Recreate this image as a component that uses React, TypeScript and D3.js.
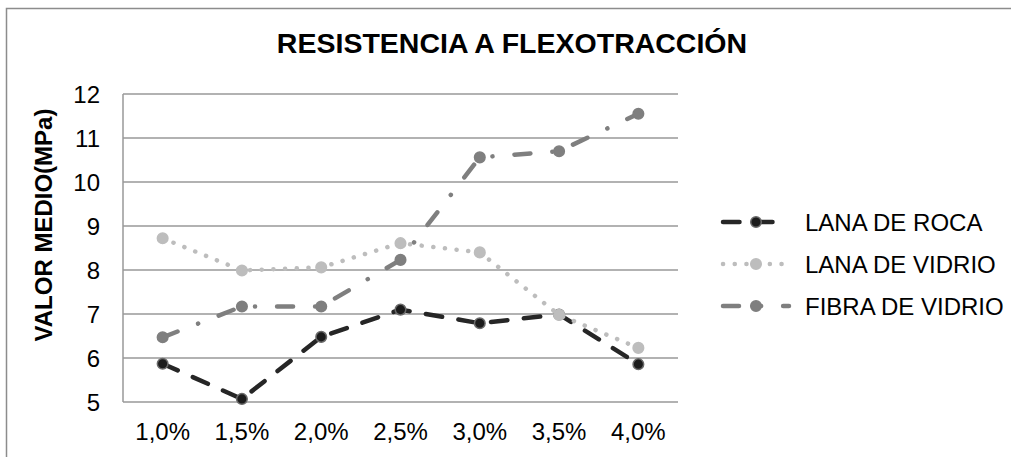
import * as d3 from "d3";

const categories = ["1,0%", "1,5%", "2,0%", "2,5%", "3,0%", "3,5%", "4,0%"];
const lanaRoca = [5.87, 5.07, 6.48, 7.1, 6.79, 6.99, 5.86];
const lanaVidrio = [8.72, 7.99, 8.06, 8.61, 8.4, 6.98, 6.23];
const fibraVidrio = [6.47, 7.17, 7.17, 8.23, 10.56, 10.7, 11.55];
const yTicks = [5, 6, 7, 8, 9, 10, 11, 12];

type Series = {
  name: string;
  values: number[];
  stroke: string;
  dash: string;
  fill: string;
  markerStroke: string;
};

const series: Series[] = [
  { name: "LANA DE ROCA", values: lanaRoca, stroke: "#262626", dash: "16.5 16.5", fill: "#1c1c1c", markerStroke: "#6a6a6a" },
  { name: "LANA DE VIDRIO", values: lanaVidrio, stroke: "#bdbdbd", dash: "0.1 11.6", fill: "#bdbdbd", markerStroke: "#bdbdbd" },
  { name: "FIBRA DE VIDRIO", values: fibraVidrio, stroke: "#7f7f7f", dash: "16 22 0.1 22", fill: "#7f7f7f", markerStroke: "#7f7f7f" },
];

const W = 1011;
const H = 457;
const font = "'Liberation Sans', Arial, sans-serif";

export default function App() {
  const x = d3.scalePoint<string>().domain(categories).range([123, 678]).padding(0.5);
  const y = d3.scaleLinear().domain([5, 12]).range([402, 94]);

  const line = d3
    .line<number>()
    .x((_, i) => x(categories[i]) as number)
    .y((d) => y(d));

  const legendY = d3.scalePoint<string>().domain(series.map((s) => s.name)).range([222, 306]);

  return (
    <svg
      width={W}
      height={H}
      style={{ position: "absolute", left: 0, top: 0, background: "#fff" }}
      fontFamily={font}
    >
      {/* outer frame (cut at right/bottom) */}
      <rect x={6.5} y={8.5} width={W + 20} height={H + 20} fill="#fff" stroke="#8c8c8c" strokeWidth={1.5} />

      <text x={512} y={53} textAnchor="middle" fontSize={28.5} fontWeight="bold" fill="#000">
        RESISTENCIA A FLEXOTRACCIÓN
      </text>

      {/* gridlines */}
      {yTicks.map((t) => (
        <line key={t} x1={123} x2={678} y1={y(t)} y2={y(t)} stroke="#999" strokeWidth={1.5} />
      ))}
      <line x1={123} x2={123} y1={y(12)} y2={y(5)} stroke="#999" strokeWidth={1.5} />

      {/* y tick labels */}
      {yTicks.map((t) => (
        <text key={t} x={100} y={y(t)} textAnchor="end" dominantBaseline="central" fontSize={24} fill="#000">
          {t}
        </text>
      ))}

      {/* x tick labels */}
      {categories.map((c) => (
        <text key={c} x={x(c)} y={440} textAnchor="middle" fontSize={24} fill="#000">
          {c}
        </text>
      ))}

      <text
        transform="translate(43,225) rotate(-90)"
        textAnchor="middle"
        dominantBaseline="central"
        fontSize={24}
        fontWeight="bold"
        fill="#000"
      >
        VALOR MEDIO(MPa)
      </text>

      {/* series */}
      {series.map((s) => (
        <g key={s.name}>
          <path
            d={line(s.values) ?? ""}
            fill="none"
            stroke={s.stroke}
            strokeWidth={4.5}
            strokeDasharray={s.dash}
            strokeLinecap="round"
            strokeLinejoin="round"
          />
          {s.values.map((v, i) => (
            <circle
              key={i}
              cx={x(categories[i])}
              cy={y(v)}
              r={5.3}
              fill={s.fill}
              stroke={s.markerStroke}
              strokeWidth={1.5}
            />
          ))}
        </g>
      ))}

      {/* legend */}
      {series.map((s) => {
        const ly = legendY(s.name) as number;
        return (
          <g key={s.name}>
            <line
              x1={723}
              x2={789}
              y1={ly}
              y2={ly}
              stroke={s.stroke}
              strokeWidth={4.5}
              strokeDasharray={s.dash}
              strokeLinecap="round"
            />
            <circle cx={756} cy={ly} r={5.3} fill={s.fill} stroke={s.markerStroke} strokeWidth={1.5} />
            <text x={805} y={ly} dominantBaseline="central" fontSize={24} fill="#000">
              {s.name}
            </text>
          </g>
        );
      })}
    </svg>
  );
}
